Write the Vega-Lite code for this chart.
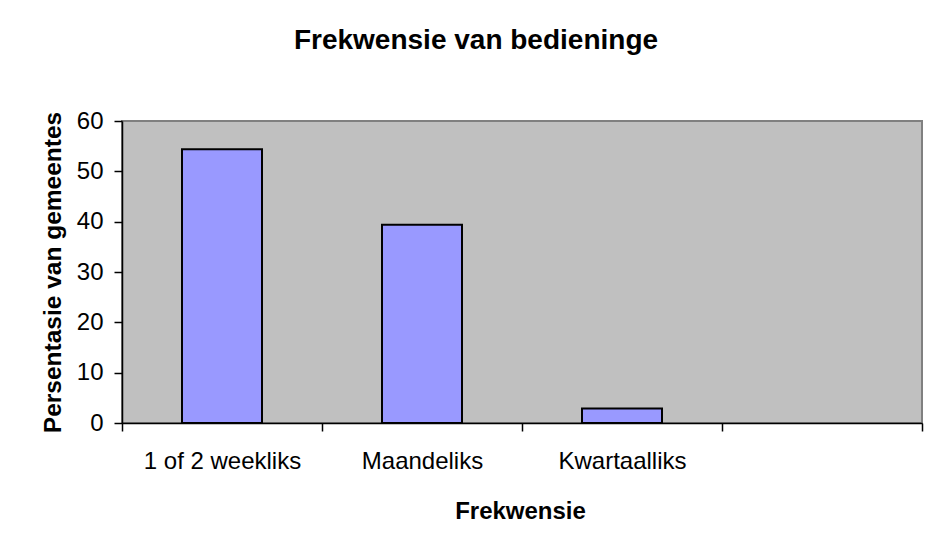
{
  "$schema": "https://vega.github.io/schema/vega-lite/v6.json",
  "width": 800,
  "height": 302,
  "autosize": "none",
  "padding": {"left": 122, "top": 121, "right": 11, "bottom": 120},
  "background": "white",
  "title": {
    "text": "Frekwensie van bedieninge",
    "font": "Liberation Sans",
    "fontSize": 28,
    "fontWeight": "bold",
    "color": "black",
    "anchor": "middle",
    "frame": "group",
    "dx": -46,
    "baseline": "alphabetic",
    "offset": 32
  },
  "data": {
    "values": [
      {"Frekwensie": "1 of 2 weekliks", "Persentasie": 54.4},
      {"Frekwensie": "Maandeliks", "Persentasie": 39.4},
      {"Frekwensie": "Kwartaalliks", "Persentasie": 2.9}
    ]
  },
  "mark": {"type": "bar", "fill": "#9999FF", "stroke": "black", "strokeWidth": 2, "width": {"band": 0.4}},
  "encoding": {
    "x": {
      "field": "Frekwensie",
      "type": "nominal",
      "sort": null,
      "scale": {"domain": ["1 of 2 weekliks", "Maandeliks", "Kwartaalliks", ""], "paddingInner": 0, "paddingOuter": 0},
      "axis": {
        "title": "Frekwensie",
        "tickBand": "extent",
        "grid": false,
        "domainColor": "black",
        "domainWidth": 1.5,
        "tickColor": "black",
        "tickWidth": 1.5,
        "tickSize": 8,
        "labelFont": "Liberation Sans",
        "labelFontSize": 24,
        "labelColor": "black",
        "labelAngle": 0,
        "labelBaseline": "alphabetic",
        "labelPadding": 37,
        "titleFont": "Liberation Sans",
        "titleFontSize": 24,
        "titleFontWeight": "bold",
        "titleColor": "black",
        "titleX": 398,
        "titleY": 95.5,
        "titleBaseline": "alphabetic",
        "titleAlign": "center"
      }
    },
    "y": {
      "field": "Persentasie",
      "type": "quantitative",
      "scale": {"domain": [0, 60]},
      "axis": {
        "values": [0, 10, 20, 30, 40, 50, 60],
        "grid": false,
        "domainColor": "black",
        "domainWidth": 1.5,
        "tickColor": "black",
        "tickWidth": 1.5,
        "tickSize": 8,
        "labelFont": "Liberation Sans",
        "labelFontSize": 24,
        "labelColor": "black",
        "labelPadding": 11,
        "title": "Persentasie van gemeentes",
        "titleFont": "Liberation Sans",
        "titleFontSize": 24.5,
        "titleFontWeight": "bold",
        "titleColor": "black",
        "titleAngle": -90,
        "titleX": -61.5,
        "titleY": 151,
        "titleAlign": "center",
        "titleBaseline": "alphabetic"
      }
    }
  },
  "config": {
    "view": {"fill": "#C0C0C0", "stroke": "#808080", "strokeWidth": 2}
  }
}
